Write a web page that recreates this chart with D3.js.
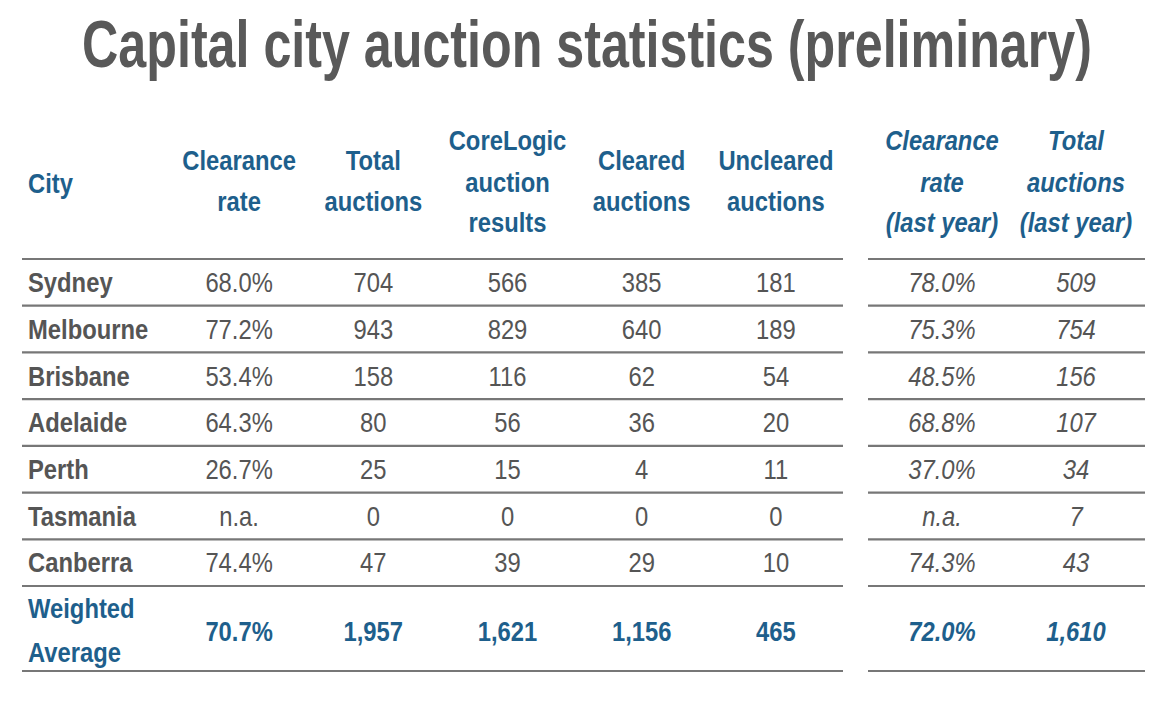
<!DOCTYPE html>
<html><head><meta charset="utf-8">
<script src="https://cdn.jsdelivr.net/npm/d3@7"></script>
<style>html,body{margin:0;padding:0;background:#fff;}svg{display:block;}</style>
</head><body>
<svg id="chart" width="1160" height="704"></svg>
<script>
const title = "Capital city auction statistics (preliminary)";
const cities = ["Sydney","Melbourne","Brisbane","Adelaide","Perth","Tasmania","Canberra"];
const clearanceRate = ["68.0%","77.2%","53.4%","64.3%","26.7%","n.a.","74.4%"];
const totalAuctions = ["704","943","158","80","25","0","47"];
const corelogicResults = ["566","829","116","56","15","0","39"];
const clearedAuctions = ["385","640","62","36","4","0","29"];
const unclearedAuctions = ["181","189","54","20","11","0","10"];
const clearanceLastYear = ["78.0%","75.3%","48.5%","68.8%","37.0%","n.a.","74.3%"];
const totalLastYear = ["509","754","156","107","34","7","43"];
const averageLabel = ["Weighted","Average"];
const averageCurrent = ["70.7%","1,957","1,621","1,156","465"];
const averageLastYear = ["72.0%","1,610"];
const headersCurrent = [["Clearance","rate"],["Total","auctions"],["CoreLogic","auction","results"],["Cleared","auctions"],["Uncleared","auctions"]];
const headersLastYear = [["Clearance","rate","(last year)"],["Total","auctions","(last year)"]];
const cityHeader = "City";

const svg = d3.select("#chart");
const BLUE = "#1e5f8c", GREY = "#555555", LINE = "#777777";
const FONT = "'Liberation Sans', Arial, sans-serif";
const SX = 0.85;

function txt(g, x, y, s, opts) {
  const o = Object.assign({size:28, weight:"normal", style:"normal", fill:GREY, anchor:"middle", sx:SX}, opts||{});
  return g.append("text")
    .attr("transform", `translate(${x},${y}) scale(${o.sx},1)`)
    .attr("dy","0.35em")
    .attr("text-anchor", o.anchor)
    .attr("font-family", FONT)
    .attr("font-size", o.size)
    .attr("font-weight", o.weight)
    .attr("font-style", o.style)
    .attr("fill", o.fill)
    .text(s);
}

// Title: fit to the reference width by horizontal scaling
const titleG = svg.append("g");
const titleText = titleG.append("text")
  .attr("font-family", FONT).attr("font-size", 66).attr("font-weight","bold")
  .attr("fill", "#595959").attr("text-anchor","middle")
  .text(title);
const natW = titleText.node().getComputedTextLength();
const titleW = 1010;
titleText.attr("transform", `translate(587,67) scale(${titleW/natW},1)`);

// Scales
const xLeft = d3.scaleBand().domain(d3.range(5)).range([172, 843]);
const xRight = d3.scaleBand().domain(d3.range(2)).range([875, 1143]);
const yRows = d3.scaleBand().domain(cities).range([259, 586]);
const avgBottom = 671, avgMid = 631;
const lineL = [22, 843], lineR = [868, 1145];
const headerLineY = 259;
const hdrLines2 = [160, 201], hdrLines3 = [140, 182, 222];

const g = svg.append("g");

// Header
txt(g, 28, 183, cityHeader, {fill:BLUE, weight:"bold", anchor:"start"});
headersCurrent.forEach((h, i) => {
  const ys = h.length === 3 ? hdrLines3 : hdrLines2;
  h.forEach((s, k) => txt(g, xLeft(i) + xLeft.bandwidth()/2, ys[k], s, {fill:BLUE, weight:"bold"}));
});
headersLastYear.forEach((h, i) => {
  h.forEach((s, k) => txt(g, xRight(i) + xRight.bandwidth()/2, hdrLines3[k], s, {fill:BLUE, weight:"bold", style:"italic"}));
});

// Lines
const lineYs = [headerLineY].concat(cities.map(c => yRows(c) + yRows.bandwidth())).concat([avgBottom]);
[lineL, lineR].forEach(r => {
  g.selectAll(null).data(lineYs).enter().append("line")
    .attr("x1", r[0]).attr("x2", r[1])
    .attr("y1", d => d).attr("y2", d => d)
    .attr("stroke", LINE).attr("stroke-width", 2.2);
});

// Rows
const currentCols = [clearanceRate, totalAuctions, corelogicResults, clearedAuctions, unclearedAuctions];
const lastCols = [clearanceLastYear, totalLastYear];
cities.forEach((c, r) => {
  const y = yRows(c) + yRows.bandwidth()/2;
  txt(g, 28, y, c, {weight:"bold", anchor:"start"});
  currentCols.forEach((col, i) => txt(g, xLeft(i) + xLeft.bandwidth()/2, y, col[r]));
  lastCols.forEach((col, i) => txt(g, xRight(i) + xRight.bandwidth()/2, y, col[r], {style:"italic"}));
});

// Weighted average
txt(g, 28, 608, averageLabel[0], {fill:BLUE, weight:"bold", anchor:"start"});
txt(g, 28, 652, averageLabel[1], {fill:BLUE, weight:"bold", anchor:"start"});
averageCurrent.forEach((v, i) => txt(g, xLeft(i) + xLeft.bandwidth()/2, avgMid, v, {fill:BLUE, weight:"bold"}));
averageLastYear.forEach((v, i) => txt(g, xRight(i) + xRight.bandwidth()/2, avgMid, v, {fill:BLUE, weight:"bold", style:"italic"}));
</script>
</body></html>
